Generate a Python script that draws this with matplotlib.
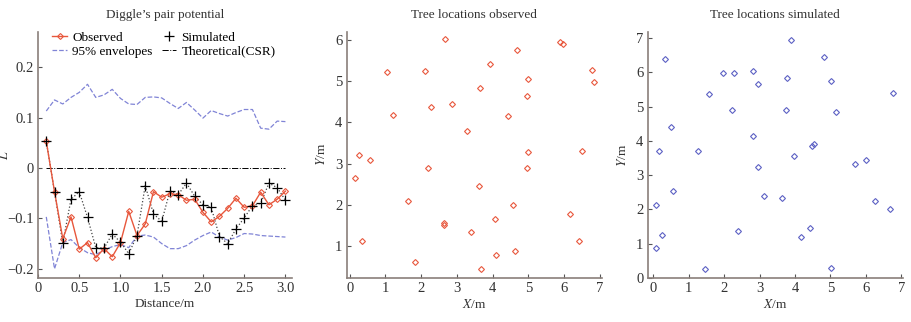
# Diggle's pair potential and tree locations (observed / simulated)

import numpy as np
import matplotlib.pyplot as plt

plt.rcParams['font.family'] = ['Liberation Serif', 'DejaVu Serif']
plt.rcParams['mathtext.fontset'] = 'stix'

# distance steps
dist = [0.1, 0.2, 0.3, 0.4, 0.5, 0.6, 0.7, 0.8, 0.9, 1.0,
        1.1, 1.2, 1.3, 1.4, 1.5, 1.6, 1.7, 1.8, 1.9, 2.0,
        2.1, 2.2, 2.3, 2.4, 2.5, 2.6, 2.7, 2.8, 2.9, 3.0]

l_obs = [0.053, -0.047, -0.140, -0.097, -0.161, -0.148, -0.178, -0.160, -0.176, -0.148,
         -0.086, -0.134, -0.111, -0.047, -0.058, -0.051, -0.053, -0.064, -0.062, -0.088,
         -0.107, -0.096, -0.080, -0.060, -0.078, -0.075, -0.048, -0.073, -0.062, -0.046]

l_sim = [0.053, -0.047, -0.149, -0.062, -0.047, -0.098, -0.158, -0.159, -0.131, -0.147,
         -0.170, -0.134, -0.035, -0.091, -0.106, -0.045, -0.053, -0.030, -0.056, -0.073,
         -0.078, -0.136, -0.150, -0.121, -0.099, -0.075, -0.070, -0.030, -0.039, -0.064]

env_hi = [0.113, 0.135, 0.127, 0.140, 0.150, 0.166, 0.140, 0.145, 0.156, 0.138,
          0.127, 0.126, 0.140, 0.141, 0.139, 0.128, 0.118, 0.130, 0.115, 0.099,
          0.114, 0.108, 0.103, 0.110, 0.116, 0.116, 0.079, 0.077, 0.093, 0.092]

env_lo = [-0.097, -0.200, -0.148, -0.142, -0.158, -0.168, -0.172, -0.163, -0.156, -0.152,
          -0.158, -0.135, -0.133, -0.137, -0.150, -0.160, -0.160, -0.154, -0.143, -0.134,
          -0.127, -0.137, -0.143, -0.138, -0.130, -0.131, -0.134, -0.135, -0.136, -0.137]

csr = [0.0] * len(dist)

# observed tree locations
obs_x = [0.26, 0.56, 0.15, 0.34, 1.04, 1.21, 1.63, 1.83, 2.11, 2.27, 2.18, 2.67, 2.85,
         2.65, 2.65, 3.29, 3.40, 3.61, 3.66, 3.68, 3.92, 4.06, 4.09, 4.43, 4.56, 4.63,
         4.68, 4.99, 4.95, 4.98, 4.95, 5.89, 5.96, 6.16, 6.42, 6.50, 6.77, 6.85]
obs_y = [3.22, 3.10, 2.66, 1.14, 5.23, 4.17, 2.09, 0.61, 5.25, 4.37, 2.90, 6.01, 4.45,
         1.57, 1.51, 3.78, 1.35, 2.47, 4.83, 0.45, 5.41, 1.65, 0.80, 4.15, 1.99, 0.88,
         5.76, 5.04, 4.63, 3.28, 2.90, 5.95, 5.91, 1.78, 1.12, 3.30, 5.28, 4.97]

# simulated tree locations
sim_x = [0.15, 0.34, 0.50, 1.27, 1.58, 1.96, 2.29, 2.21, 2.81, 2.97, 2.81, 2.95, 3.76,
         3.75, 3.89, 3.97, 4.47, 4.53, 4.82, 5.02, 5.16, 5.68, 6.01, 6.75,
         0.07, 0.56, 0.25, 0.07, 1.46, 2.38, 3.13, 3.63, 4.17, 4.42, 5.02, 6.26, 6.69]
sim_y = [3.71, 6.38, 4.39, 3.71, 5.36, 5.97, 5.99, 4.90, 6.05, 5.66, 4.13, 3.25, 5.84,
         4.91, 6.95, 3.56, 3.85, 3.90, 6.46, 5.75, 4.84, 3.31, 3.45, 5.39,
         2.14, 2.55, 1.26, 0.86, 0.27, 1.36, 2.38, 2.33, 1.20, 1.46, 0.29, 2.23, 2.01]

red = '#e8573c'
blue = '#8084d6'
blue_pt = '#5c60c4'
spine_c = '#8a7f7a'
fs = 9.5
tfs = 10.5

fig = plt.figure(figsize=(9.12, 3.22), dpi=100)
ax1 = fig.add_axes([0.0417, 0.137, 0.2785, 0.764])
ax2 = fig.add_axes([0.380, 0.137, 0.2796, 0.765])
ax3 = fig.add_axes([0.710, 0.137, 0.2803, 0.763])


def style(ax):
    for s in ['top', 'right']:
        ax.spines[s].set_visible(False)
    for s in ['left', 'bottom']:
        ax.spines[s].set_color(spine_c)
        ax.spines[s].set_linewidth(1.2)
    ax.tick_params(direction='in', length=3, width=0.8, color='#555555',
                   labelsize=tfs, labelcolor='#333333', pad=3)


# pair potential panel
ax1.plot(dist, env_hi, '--', color=blue, lw=0.9, label='95% envelopes')
ax1.plot(dist, env_lo, '--', color=blue, lw=0.9)
ax1.plot(dist, csr, '-.', color='black', lw=0.7, label='Theoretical(CSR)')
ax1.plot(dist, l_sim, ':', color='#444444', lw=0.9)
ax1.plot(dist, l_obs, '-', color=red, lw=1.0, marker='D', ms=3, mfc='none',
         mec=red, mew=0.8, label='Observed')
ax1.plot(dist, l_sim, ls='none', marker='+', ms=7, mew=0.9, color='black',
         label='Simulated')
ax1.set_xlim(0, 3.08)
ax1.set_ylim(-0.218, 0.27)
ax1.set_xticks([0, 0.5, 1.0, 1.5, 2.0, 2.5, 3.0])
ax1.set_xticklabels(['0', '0.5', '1.0', '1.5', '2.0', '2.5', '3.0'])
ax1.set_yticks([-0.2, -0.1, 0, 0.1, 0.2])
ax1.set_yticklabels(['\u22120.2', '\u22120.1', '0', '0.1', '0.2'])
ax1.set_xlabel('Distance/m', fontsize=fs, color='#333333', labelpad=2)
ax1.set_ylabel('$L$', fontsize=fs, color='#333333')
ax1.yaxis.set_label_coords(-0.105, 0.5)
ax1.set_title('Diggle\u2019s pair potential', fontsize=fs, color='#333333', pad=10)
style(ax1)

h, l = ax1.get_legend_handles_labels()
order = [l.index('Observed'), l.index('95% envelopes'),
         l.index('Simulated'), l.index('Theoretical(CSR)')]
ax1.legend([h[i] for i in order], [l[i] for i in order], ncol=2, frameon=False,
           loc='upper left', bbox_to_anchor=(0.02, 1.04), fontsize=fs,
           handlelength=1.1, handletextpad=0.4, columnspacing=0.7,
           labelspacing=0.15, borderpad=0.2)

# observed locations
ax2.plot(obs_x, obs_y, ls='none', marker='D', ms=3, mfc='none', mec=red, mew=0.8)
ax2.set_xlim(-0.09, 7.05)
ax2.set_ylim(0.235, 6.2)
ax2.set_xticks(range(0, 8))
ax2.set_yticks(range(1, 7))
ax2.set_xlabel('$X$/m', fontsize=fs, color='#333333', labelpad=2)
ax2.set_ylabel('$Y$/m', fontsize=fs, color='#333333', labelpad=5)
ax2.set_title('Tree locations observed', fontsize=fs, color='#333333', pad=10)
style(ax2)

# simulated locations
ax3.plot(sim_x, sim_y, ls='none', marker='D', ms=3, mfc='none', mec=blue_pt, mew=0.8)
ax3.set_xlim(-0.16, 7.05)
ax3.set_ylim(0, 7.17)
ax3.set_xticks(range(0, 8))
ax3.set_yticks(range(0, 8))
ax3.set_xlabel('$X$/m', fontsize=fs, color='#333333', labelpad=2)
ax3.set_ylabel('$Y$/m', fontsize=fs, color='#333333', labelpad=5)
ax3.set_title('Tree locations simulated', fontsize=fs, color='#333333', pad=10)
style(ax3)

fig.savefig('out.png', dpi=100)
plt.close(fig)
